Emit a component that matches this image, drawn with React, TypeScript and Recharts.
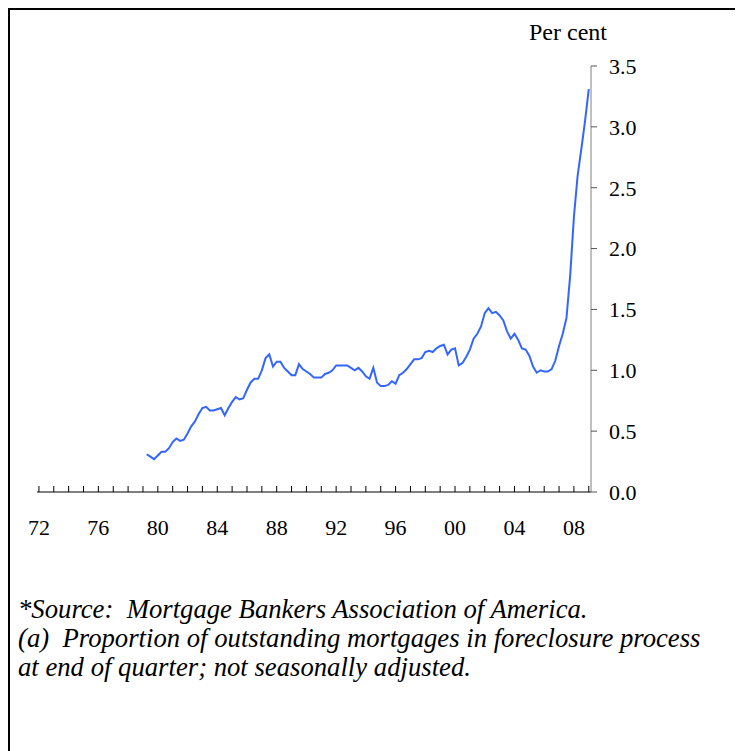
import { Line, LineChart, XAxis, YAxis } from "recharts";

// quarterly foreclosure rate, per cent, starting 1979 Q2
const firstQuarter = 1979.25;
const rates1979to1983 = [0.31, 0.29, 0.27, 0.30, 0.33, 0.33, 0.36, 0.41, 0.44, 0.42, 0.43, 0.48, 0.54, 0.58, 0.64, 0.69, 0.70, 0.67, 0.67, 0.68];
const rates1984to1988 = [0.69, 0.63, 0.69, 0.74, 0.78, 0.76, 0.77, 0.84, 0.90, 0.93, 0.93, 1.00, 1.10, 1.13, 1.03, 1.07, 1.07, 1.02, 0.99, 0.96];
const rates1989to1993 = [0.96, 1.05, 1.01, 0.99, 0.97, 0.94, 0.94, 0.94, 0.97, 0.98, 1.00, 1.04, 1.04, 1.04, 1.04, 1.02, 1.00, 1.02, 0.99, 0.95];
const rates1994to1998 = [0.93, 1.02, 0.90, 0.87, 0.87, 0.88, 0.91, 0.89, 0.96, 0.98, 1.01, 1.05, 1.09, 1.09, 1.10, 1.15, 1.16, 1.15, 1.18, 1.20];
const rates1999to2003 = [1.21, 1.13, 1.17, 1.18, 1.04, 1.06, 1.11, 1.17, 1.26, 1.30, 1.36, 1.47, 1.51, 1.47, 1.48, 1.45, 1.41, 1.32, 1.26, 1.30];
const rates2004to2008 = [1.25, 1.18, 1.17, 1.12, 1.03, 0.98, 1.00, 0.99, 0.99, 1.01, 1.08, 1.20, 1.30, 1.43, 1.78, 2.26, 2.60, 2.82, 3.05, 3.31];

const yearTicks = [1972, 1973, 1974, 1975, 1976, 1977, 1978, 1979, 1980, 1981, 1982, 1983, 1984, 1985, 1986, 1987, 1988, 1989, 1990, 1991, 1992, 1993, 1994, 1995, 1996, 1997, 1998, 1999, 2000, 2001, 2002, 2003, 2004, 2005, 2006, 2007, 2008, 2009];
const labelledYears = [1972, 1976, 1980, 1984, 1988, 1992, 1996, 2000, 2004, 2008];
const rateTicks = [0, 0.5, 1, 1.5, 2, 2.5, 3, 3.5];

const allRates = [
    ...rates1979to1983,
    ...rates1984to1988,
    ...rates1989to1993,
    ...rates1994to1998,
    ...rates1999to2003,
    ...rates2004to2008,
];
const chartData = allRates.map((rate, i) => ({ t: firstQuarter + i * 0.25, rate }));

const serif = "'Liberation Serif', 'Times New Roman', serif";

const YearTick = (props: any) => {
    const { x, y, payload } = props;
    const year = payload.value as number;
    return (
        <g>
            <line x1={x} x2={x} y1={y} y2={y - 6} stroke="#000" />
            {labelledYears.includes(year) && (
                <text x={x} y={y + 43} textAnchor="middle" fontSize={22} fontFamily={serif} fill="#000">
                    {String(year).slice(2)}
                </text>
            )}
        </g>
    );
};

const App = () => {
    return (
        <div
            style={{
                position: "relative",
                width: 731,
                height: 743,
                borderTop: "2px solid #000",
                borderLeft: "2px solid #000",
                borderRight: "2px solid #000",
                boxSizing: "border-box",
                fontFamily: serif,
                background: "#fff",
            }}
        >
            <div style={{ position: "absolute", left: -2, top: -2 }}>
                <LineChart
                    width={720}
                    height={560}
                    data={chartData}
                    margin={{ top: 58, left: 29, right: 77, bottom: 36 }}
                    accessibilityLayer={false}
                >
                    <XAxis
                        dataKey="t"
                        type="number"
                        domain={[1971.87, 2009.15]}
                        allowDataOverflow
                        ticks={yearTicks}
                        interval={0}
                        height={40}
                        tickSize={0}
                        tickMargin={0}
                        tickLine={false}
                        axisLine={{ stroke: "#000" }}
                        tick={<YearTick />}
                    />
                    <YAxis
                        orientation="right"
                        type="number"
                        domain={[0, 3.5]}
                        ticks={rateTicks}
                        width={60}
                        tickSize={6}
                        tickMargin={12}
                        axisLine={{ stroke: "#808080" }}
                        tickLine={{ stroke: "#555" }}
                        tick={{ fontSize: 22, fontFamily: serif, fill: "#000", textAnchor: "start" }}
                        tickFormatter={(v: number) => v.toFixed(1)}
                    />
                    <Line
                        type="linear"
                        dataKey="rate"
                        stroke="#3366ff"
                        strokeWidth={2}
                        dot={false}
                        isAnimationActive={false}
                    />
                </LineChart>
            </div>
            <div style={{ position: "absolute", left: 519, top: 10, fontSize: 24, lineHeight: 1 }}>Per cent</div>
            <div
                style={{
                    position: "absolute",
                    left: 8,
                    top: 585,
                    fontSize: 26.7,
                    lineHeight: "29px",
                    fontStyle: "italic",
                    whiteSpace: "pre",
                }}
            >
                <div>*Source:  Mortgage Bankers Association of America.</div>
                <div>(a)  Proportion of outstanding mortgages in foreclosure process</div>
                <div>at end of quarter; not seasonally adjusted.</div>
            </div>
        </div>
    );
};

export default App;
